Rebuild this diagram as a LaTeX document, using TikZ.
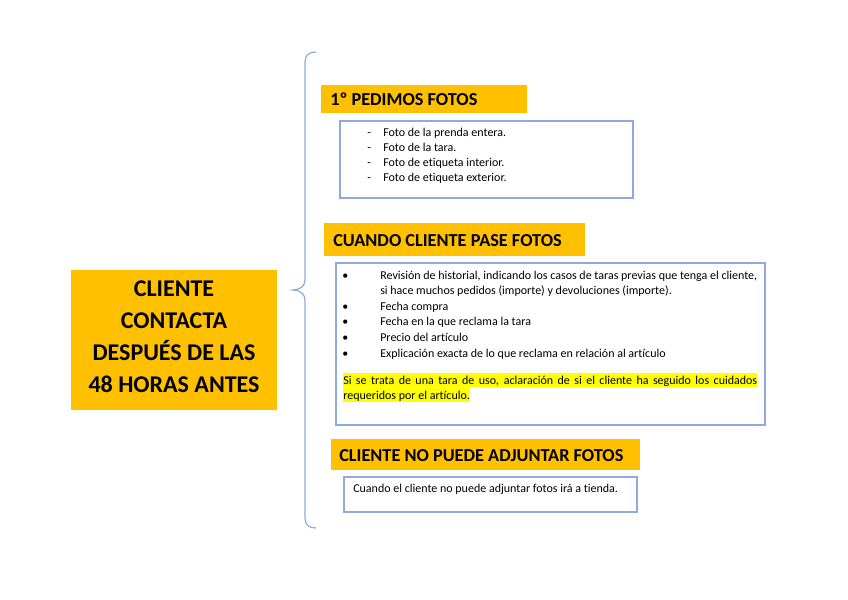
\documentclass[tikz,border=0pt]{standalone}
\usepackage{fontspec}
\setmainfont{Carlito}[Ligatures={TeX,NoCommon}]
\usetikzlibrary{fit}
\definecolor{ambar}{RGB}{255, 192, 0}
\definecolor{marcoazul}{RGB}{143, 170, 220}
\definecolor{resalte}{RGB}{255, 255, 0}
\newcommand{\guion}{\llap{\makebox[12pt][l]{-}}}
\newcommand{\punto}{\llap{\makebox[28.5pt][l]{\textbullet}}}
\newcommand{\resaltar}[1]{{\fboxsep=0pt\colorbox{resalte}{\rule[-2pt]{0pt}{10.5pt}#1}}}

\begin{document}
\begin{tikzpicture}[x=0.75pt, y=-0.75pt]
  \tikzset{
    cajaambar/.style={fill=ambar, inner sep=0pt},
    titulo/.style={font=\bfseries\fontsize{13.7}{16}\selectfont, inner sep=0pt},
    marco/.style={draw=marcoazul, line width=0.9pt, inner sep=0pt},
    cuerpo/.style={font=\fontsize{9}{11.7}\selectfont, align=left, inner sep=0pt}
  }
  \useasboundingbox[fill=white] (0,0) rectangle (848,599);

  % caja central
  \node[cajaambar, fit={(71,270) (277,410)}] (central) {};
  \node[font=\bfseries\fontsize{18}{24}\selectfont, align=center] (centraltxt) at (174,337)
    {CLIENTE\\CONTACTA\\DESPUÉS DE LAS\\48 HORAS ANTES};

  % llave
  \draw[marcoazul, line width=0.9pt]
    (316,52) .. controls (309,52) and (305,55) .. (305,62) -- (305,280)
    .. controls (305,286) and (300,290) .. (293,290)
    .. controls (300,290) and (305,294) .. (305,300) -- (305,518)
    .. controls (305,525) and (309,528) .. (316,528);

  % 1º pedimos fotos
  \node[cajaambar, fit={(321,85) (527,113)}] (cab1) {};
  \node[titulo, anchor=base west] (cab1txt) at (330,106) {1º PEDIMOS FOTOS};
  \node[marco, fit={(340,121) (633,198)}] (caja1) {};
  \node[cuerpo, font=\fontsize{9}{11.25}\selectfont, anchor=north west] (caja1txt) at (383,127.5)
    {\guion Foto de la prenda entera.\\
     \guion Foto de la tara.\\
     \guion Foto de etiqueta interior.\\
     \guion Foto de etiqueta exterior.};

  % cuando cliente pase fotos
  \node[cajaambar, fit={(324,223) (585,256)}] (cab2) {};
  \node[titulo, anchor=base west] (cab2txt) at (333,246) {CUANDO CLIENTE PASE FOTOS};
  \node[marco, fit={(336,263) (765,425)}] (caja2) {};
  \node[cuerpo, anchor=north west] (caja2txt) at (380,270.5)
    {\punto Revisión de historial, indicando los casos de taras previas que tenga el cliente,\\
     si hace muchos pedidos (importe) y devoluciones (importe).\\
     \punto Fecha compra\\
     \punto Fecha en la que reclama la tara\\
     \punto Precio del artículo\\
     \punto Explicación exacta de lo que reclama en relación al artículo};
  \node[cuerpo, font=\fontsize{9}{11.25}\selectfont, anchor=north west] (caja2nota) at (343,373)
    {\resaltar{\makebox[310.5pt][s]{Si se trata de una tara de uso, aclaración de si el cliente ha seguido los cuidados}}\\
     \resaltar{requeridos por el artículo.}};

  % cliente no puede adjuntar fotos
  \node[cajaambar, fit={(331,439) (640,470)}] (cab3) {};
  \node[titulo, anchor=base west] (cab3txt) at (339,461) {CLIENTE NO PUEDE ADJUNTAR FOTOS};
  \node[marco, fit={(344,477) (637,512)}] (caja3) {};
  \node[cuerpo, anchor=base west] (caja3txt) at (353,492.5)
    {Cuando el cliente no puede adjuntar fotos irá a tienda.};
\end{tikzpicture}
\end{document}
